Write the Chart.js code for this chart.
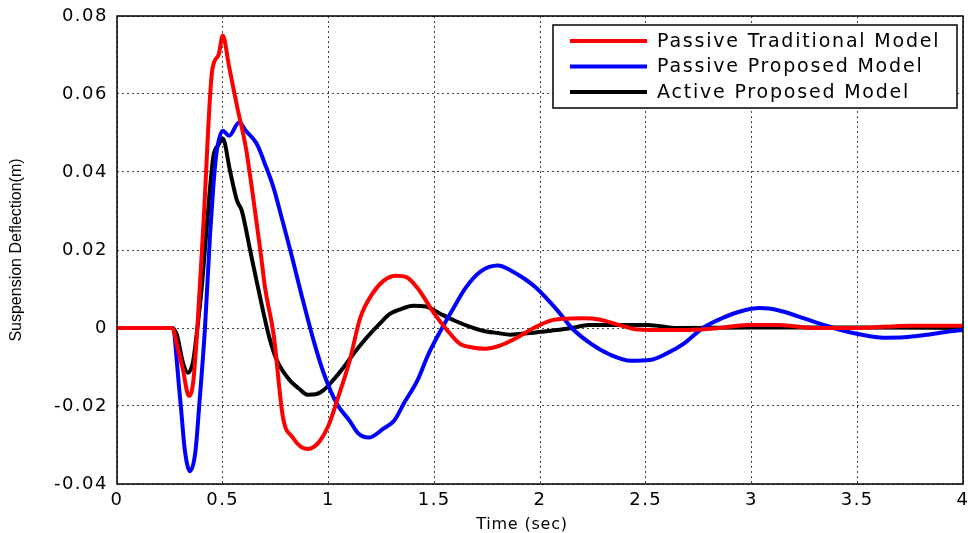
<!DOCTYPE html>
<html>
<head>
<meta charset="utf-8">
<script src="https://cdn.jsdelivr.net/npm/chart.js@4/dist/chart.umd.min.js"></script>
<style>
  html, body { margin: 0; padding: 0; background: #fff; }
  #wrap { width: 968px; height: 533px; }
</style>
</head>
<body>
<div id="wrap"><canvas id="chart-deflection" width="968" height="533"></canvas></div>
<script>
// Series labels and colours
const seriesNames = [
  "Passive Traditional Model",
  "Passive Proposed Model",
  "Active Proposed Model",
];
const seriesColors = ["#ff0000", "#0000ff", "#000000"];

const xTitle = "Time (sec)";
const yTitle = "Suspension Deflection(m)";

// Passive traditional model (red), time in sec / deflection in m
const redTime = [0, 0.26, 0.29, 0.31, 0.34, 0.36, 0.38, 0.41, 0.45, 0.48, 0.5, 0.53, 0.567, 0.61, 0.65, 0.68, 0.7, 0.74, 0.785, 0.83, 0.87, 0.9, 0.93, 0.96, 1.0, 1.04, 1.1, 1.15, 1.21, 1.26, 1.32, 1.37, 1.42, 1.5, 1.56, 1.62, 1.68, 1.74, 1.81, 1.89, 1.97, 2.05, 2.13, 2.2, 2.28, 2.36, 2.45, 2.55, 2.7, 2.85, 2.98, 3.13, 3.3, 3.5, 3.75, 4.0];
const redValue = [0, 0, -0.0058, -0.0102, -0.0174, -0.014, 0.0, 0.028, 0.066, 0.07, 0.075, 0.067, 0.057, 0.046, 0.031, 0.019, 0.0103, -0.0015, -0.023, -0.028, -0.0305, -0.031, -0.0305, -0.0289, -0.025, -0.0187, -0.0084, 0.0026, 0.009, 0.0121, 0.0134, 0.013, 0.0103, 0.0037, -0.0005, -0.004, -0.005, -0.0053, -0.0045, -0.0025, 0.0, 0.0019, 0.0024, 0.0025, 0.0022, 0.001, -0.0003, -0.0005, -0.0005, 0.0, 0.0008, 0.0008, 0.0, 0.0, 0.0006, 0.0006];

// Passive proposed model (blue)
const blueTime = [0, 0.26, 0.3, 0.32, 0.345, 0.37, 0.39, 0.416, 0.44, 0.455, 0.47, 0.5, 0.53, 0.577, 0.61, 0.66, 0.7, 0.74, 0.78, 0.82, 0.87, 0.93, 0.98, 1.04, 1.1, 1.14, 1.19, 1.26, 1.31, 1.36, 1.42, 1.47, 1.53, 1.59, 1.65, 1.72, 1.8, 1.87, 1.93, 1.98, 2.05, 2.09, 2.15, 2.24, 2.33, 2.43, 2.52, 2.6, 2.68, 2.77, 2.86, 2.95, 3.04, 3.13, 3.22, 3.3, 3.39, 3.48, 3.56, 3.64, 3.72, 3.82, 3.92, 4.0];
const blueValue = [0, 0, -0.019, -0.031, -0.0367, -0.032, -0.019, 0.0, 0.024, 0.036, 0.0447, 0.0506, 0.0493, 0.0527, 0.0505, 0.0473, 0.042, 0.036, 0.028, 0.0198, 0.009, -0.0033, -0.012, -0.0195, -0.0238, -0.027, -0.0281, -0.0258, -0.0238, -0.019, -0.0135, -0.007, -0.0007, 0.005, 0.0104, 0.0145, 0.016, 0.0145, 0.0125, 0.0104, 0.0065, 0.004, 0.0, -0.004, -0.0068, -0.0084, -0.0082, -0.0065, -0.004, 0.0, 0.0025, 0.0043, 0.0051, 0.0045, 0.003, 0.0015, 0.0, -0.0013, -0.0021, -0.0025, -0.0024, -0.0018, -0.001, -0.0005];

// Active proposed model (black)
const blackTime = [0, 0.26, 0.282, 0.314, 0.336, 0.36, 0.38, 0.4, 0.42, 0.455, 0.48, 0.5, 0.534, 0.567, 0.59, 0.63, 0.68, 0.72, 0.757, 0.82, 0.86, 0.9, 0.94, 0.975, 1.02, 1.07, 1.12, 1.18, 1.24, 1.29, 1.34, 1.4, 1.46, 1.53, 1.6, 1.67, 1.73, 1.8, 1.86, 1.95, 2.05, 2.15, 2.23, 2.4, 2.51, 2.65, 3.0, 3.5, 4.0];
const blackValue = [0, 0, -0.0016, -0.0093, -0.0115, -0.0085, 0.0, 0.01, 0.023, 0.0438, 0.047, 0.0486, 0.0404, 0.0327, 0.0301, 0.0198, 0.007, -0.0024, -0.0084, -0.0136, -0.0155, -0.0171, -0.017, -0.016, -0.0135, -0.0102, -0.0065, -0.0025, 0.001, 0.0036, 0.0048, 0.0057, 0.0055, 0.0036, 0.0018, 0.0003, -0.0007, -0.0013, -0.0017, -0.0013, -0.0007, 0.0, 0.0008, 0.0008, 0.0008, 0.0, 0.0001, 0.0001, 0.0];

const seriesTimes = [redTime, blueTime, blackTime];
const seriesValues = [redValue, blueValue, blackValue];

const FONT = "'DejaVu Sans', 'Liberation Sans', Arial, sans-serif";

// matlab-ish wide lettering for the tick labels
const wideText = {
  id: "wideText",
  beforeDraw(chart) {
    chart.ctx.letterSpacing = "1.5px";
  },
};

// solid axes box, axis titles and boxed legend inside the plot
const matlabFrame = {
  id: "matlabFrame",
  afterDraw(chart) {
    const { ctx, chartArea } = chart;
    ctx.save();
    ctx.letterSpacing = "0px";
    ctx.strokeStyle = "#000";
    ctx.lineWidth = 1.5;
    ctx.strokeRect(chartArea.left, chartArea.top, chartArea.right - chartArea.left, chartArea.bottom - chartArea.top);

    // y title
    ctx.save();
    ctx.translate(17, (chartArea.top + chartArea.bottom) / 2);
    ctx.rotate(-Math.PI / 2);
    ctx.font = `16px 'Liberation Sans', Arial, sans-serif`;
    ctx.fillStyle = "#000";
    ctx.textAlign = "center";
    ctx.textBaseline = "middle";
    ctx.fillText(yTitle, 0, 0);
    ctx.restore();

    // x title (sits a little left of centre in the original)
    ctx.font = `16px ${FONT}`;
    ctx.letterSpacing = "0.8px";
    ctx.fillStyle = "#000";
    ctx.textAlign = "center";
    ctx.textBaseline = "middle";
    ctx.fillText(xTitle, 522, 525);

    // legend
    const w = 404, h = 83;
    const x = chartArea.right - 6 - w;
    const y = chartArea.top + 9;
    ctx.fillStyle = "#fff";
    ctx.fillRect(x, y, w, h);
    ctx.strokeStyle = "#000";
    ctx.lineWidth = 1.5;
    ctx.strokeRect(x, y, w, h);
    ctx.font = `19px ${FONT}`;
    ctx.letterSpacing = "1.8px";
    ctx.textAlign = "left";
    ctx.textBaseline = "middle";
    chart.data.datasets.forEach((ds, i) => {
      const yy = y + 16 + i * 25.5;
      ctx.strokeStyle = ds.borderColor;
      ctx.lineWidth = 4;
      ctx.beginPath();
      ctx.moveTo(x + 17, yy);
      ctx.lineTo(x + 94, yy);
      ctx.stroke();
      ctx.fillStyle = "#000";
      ctx.fillText(ds.label, x + 104, yy + 1);
    });
    ctx.restore();
  },
};

const datasets = seriesNames.map((name, i) => ({
  label: name,
  data: seriesTimes[i].map((t, j) => ({ x: t, y: seriesValues[i][j] })),
  borderColor: seriesColors[i],
  borderWidth: 4,
  pointRadius: 0,
  cubicInterpolationMode: "monotone",
  borderJoinStyle: "round",
  fill: false,
}));

const ctx = document.querySelector("#chart-deflection").getContext("2d");

const myChart = new Chart(ctx, {
  type: "line",
  data: { datasets },
  plugins: [wideText, matlabFrame],
  options: {
    responsive: false,
    animation: false,
    layout: { padding: { top: 16, right: 5, left: 0, bottom: 0 } },
    plugins: {
      legend: { display: false },
      tooltip: { enabled: false },
    },
    scales: {
      x: {
        type: "linear",
        min: 0,
        max: 4,
        ticks: {
          stepSize: 0.5,
          color: "#000",
          font: { family: FONT, size: 18 },
          padding: 6,
          maxRotation: 0,
          callback: (v) => `${v}`,
        },
        grid: {
          color: "#444",
          lineWidth: 1,
          drawTicks: false,
        },
        border: { display: false, dash: [2, 3] },
        afterFit: (scale) => {
          scale.height = 49;
          scale.paddingLeft = 0;
          scale.paddingRight = 0;
        },
      },
      y: {
        min: -0.04,
        max: 0.08,
        ticks: {
          stepSize: 0.02,
          color: "#000",
          font: { family: FONT, size: 18 },
          padding: 9,
          callback: (v) => (Math.abs(v) < 1e-9 ? "0" : v.toFixed(2)),
        },
        grid: {
          color: "#444",
          lineWidth: 1,
          drawTicks: false,
        },
        border: { display: false, dash: [2, 3] },
        afterFit: (scale) => {
          scale.width = 117;
          scale.paddingTop = 0;
          scale.paddingBottom = 0;
        },
      },
    },
  },
});
</script>
</body>
</html>
